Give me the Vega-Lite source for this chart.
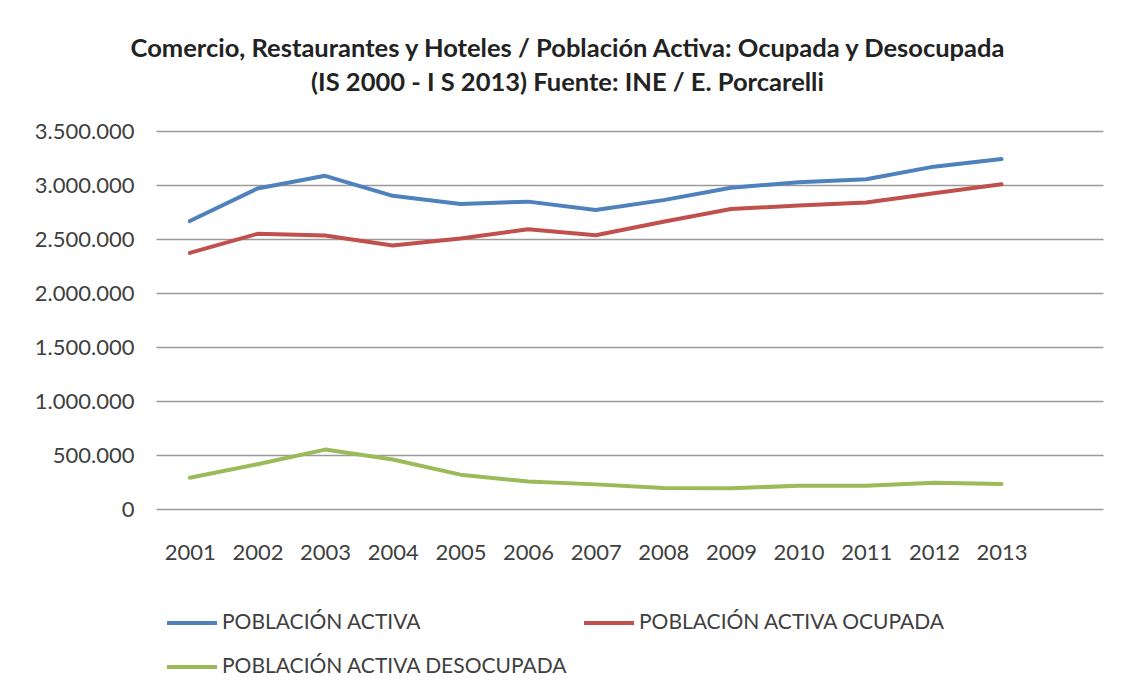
{
  "$schema": "https://vega.github.io/schema/vega-lite/v6.json",
  "autosize": "none",
  "width": 947,
  "height": 378,
  "padding": {"left": 156, "top": 131, "right": 23, "bottom": 190},
  "background": "white",
  "title": {
    "text": ["Comercio, Restaurantes y Hoteles / Población Activa: Ocupada y Desocupada", "(IS 2000 - I S 2013) Fuente: INE / E. Porcarelli"],
    "anchor": "middle",
    "dx": -62,
    "offset": 24,
    "font": "Lato",
    "fontSize": 25.5,
    "fontWeight": "bold",
    "color": "#222222",
    "lineHeight": 34
  },
  "data": {
    "values": [
      {"year": 2001, "serie": "POBLACIÓN ACTIVA", "valor": 2666000},
      {"year": 2002, "serie": "POBLACIÓN ACTIVA", "valor": 2968000},
      {"year": 2003, "serie": "POBLACIÓN ACTIVA", "valor": 3085000},
      {"year": 2004, "serie": "POBLACIÓN ACTIVA", "valor": 2900000},
      {"year": 2005, "serie": "POBLACIÓN ACTIVA", "valor": 2824000},
      {"year": 2006, "serie": "POBLACIÓN ACTIVA", "valor": 2846000},
      {"year": 2007, "serie": "POBLACIÓN ACTIVA", "valor": 2768000},
      {"year": 2008, "serie": "POBLACIÓN ACTIVA", "valor": 2860000},
      {"year": 2009, "serie": "POBLACIÓN ACTIVA", "valor": 2975000},
      {"year": 2010, "serie": "POBLACIÓN ACTIVA", "valor": 3026000},
      {"year": 2011, "serie": "POBLACIÓN ACTIVA", "valor": 3054000},
      {"year": 2012, "serie": "POBLACIÓN ACTIVA", "valor": 3170000},
      {"year": 2013, "serie": "POBLACIÓN ACTIVA", "valor": 3240000},
      {"year": 2001, "serie": "POBLACIÓN ACTIVA OCUPADA", "valor": 2371000},
      {"year": 2002, "serie": "POBLACIÓN ACTIVA OCUPADA", "valor": 2548000},
      {"year": 2003, "serie": "POBLACIÓN ACTIVA OCUPADA", "valor": 2532000},
      {"year": 2004, "serie": "POBLACIÓN ACTIVA OCUPADA", "valor": 2440000},
      {"year": 2005, "serie": "POBLACIÓN ACTIVA OCUPADA", "valor": 2505000},
      {"year": 2006, "serie": "POBLACIÓN ACTIVA OCUPADA", "valor": 2590000},
      {"year": 2007, "serie": "POBLACIÓN ACTIVA OCUPADA", "valor": 2535000},
      {"year": 2008, "serie": "POBLACIÓN ACTIVA OCUPADA", "valor": 2660000},
      {"year": 2009, "serie": "POBLACIÓN ACTIVA OCUPADA", "valor": 2778000},
      {"year": 2010, "serie": "POBLACIÓN ACTIVA OCUPADA", "valor": 2810000},
      {"year": 2011, "serie": "POBLACIÓN ACTIVA OCUPADA", "valor": 2837000},
      {"year": 2012, "serie": "POBLACIÓN ACTIVA OCUPADA", "valor": 2924000},
      {"year": 2013, "serie": "POBLACIÓN ACTIVA OCUPADA", "valor": 3007000},
      {"year": 2001, "serie": "POBLACIÓN ACTIVA DESOCUPADA", "valor": 290000},
      {"year": 2002, "serie": "POBLACIÓN ACTIVA DESOCUPADA", "valor": 415000},
      {"year": 2003, "serie": "POBLACIÓN ACTIVA DESOCUPADA", "valor": 550000},
      {"year": 2004, "serie": "POBLACIÓN ACTIVA DESOCUPADA", "valor": 458000},
      {"year": 2005, "serie": "POBLACIÓN ACTIVA DESOCUPADA", "valor": 318000},
      {"year": 2006, "serie": "POBLACIÓN ACTIVA DESOCUPADA", "valor": 255000},
      {"year": 2007, "serie": "POBLACIÓN ACTIVA DESOCUPADA", "valor": 228000},
      {"year": 2008, "serie": "POBLACIÓN ACTIVA DESOCUPADA", "valor": 195000},
      {"year": 2009, "serie": "POBLACIÓN ACTIVA DESOCUPADA", "valor": 192000},
      {"year": 2010, "serie": "POBLACIÓN ACTIVA DESOCUPADA", "valor": 215000},
      {"year": 2011, "serie": "POBLACIÓN ACTIVA DESOCUPADA", "valor": 215000},
      {"year": 2012, "serie": "POBLACIÓN ACTIVA DESOCUPADA", "valor": 242000},
      {"year": 2013, "serie": "POBLACIÓN ACTIVA DESOCUPADA", "valor": 232000}
    ]
  },
  "mark": {"type": "line", "strokeWidth": 4, "strokeCap": "round", "strokeJoin": "round"},
  "encoding": {
    "x": {
      "field": "year",
      "type": "quantitative",
      "scale": {"domain": [2000.5, 2014.5], "nice": false, "zero": false},
      "axis": {
        "values": [2001, 2002, 2003, 2004, 2005, 2006, 2007, 2008, 2009, 2010, 2011, 2012, 2013],
        "format": "d",
        "title": null,
        "grid": false,
        "domain": false,
        "ticks": false,
        "labelPadding": 33,
        "labelFont": "Lato",
        "labelFontSize": 22,
        "labelColor": "#404040"
      }
    },
    "y": {
      "field": "valor",
      "type": "quantitative",
      "scale": {"domain": [0, 3500000], "nice": false},
      "axis": {
        "values": [0, 500000, 1000000, 1500000, 2000000, 2500000, 3000000, 3500000],
        "format": ",d",
        "title": null,
        "domain": false,
        "ticks": false,
        "grid": true,
        "gridColor": "#9a9a9a",
        "gridWidth": 1.5,
        "labelPadding": 22,
        "labelFont": "Lato",
        "labelFontSize": 22,
        "labelColor": "#404040"
      }
    },
    "color": {
      "field": "serie",
      "type": "nominal",
      "scale": {
        "domain": ["POBLACIÓN ACTIVA", "POBLACIÓN ACTIVA OCUPADA", "POBLACIÓN ACTIVA DESOCUPADA"],
        "range": ["#4F81BD", "#C0504D", "#9BBB59"]
      },
      "legend": {
        "title": null,
        "orient": "none",
        "legendX": 9,
        "legendY": 465,
        "direction": "horizontal",
        "columns": 2,
        "columnPadding": 8,
        "rowPadding": 7,
        "symbolType": "stroke",
        "symbolSize": 2500,
        "symbolStrokeWidth": 4,
        "labelOffset": 3,
        "labelFont": "Lato",
        "labelFontSize": 21,
        "labelColor": "#404040",
        "labelLimit": 600
      }
    }
  },
  "config": {
    "view": {"stroke": null},
    "locale": {
      "number": {"decimal": ",", "thousands": ".", "grouping": [3], "currency": ["", " €"]}
    }
  }
}
